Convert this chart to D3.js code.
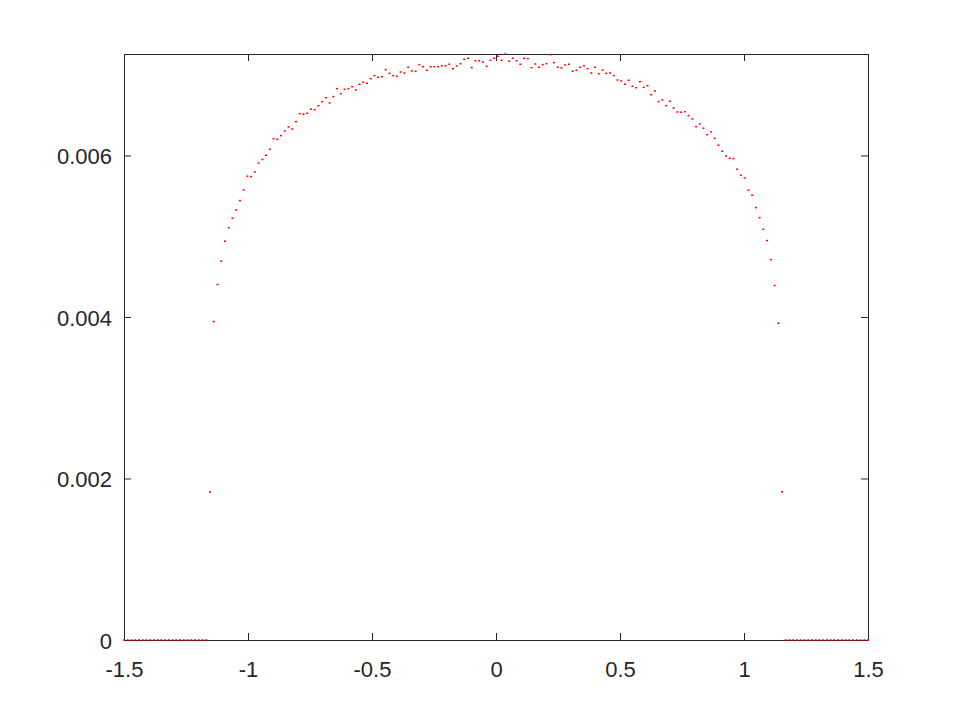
<!DOCTYPE html>
<html>
<head>
<meta charset="utf-8">
<script src="https://cdn.jsdelivr.net/npm/d3@7"></script>
<style>
  html, body { margin: 0; padding: 0; background: #fff; }
  svg { display: block; }
  .tick text { font-family: "Liberation Sans", Arial, sans-serif; font-size: 22px; fill: #262626; }
</style>
</head>
<body>
<svg id="chart" width="960" height="720"></svg>
<script>
// ---- data ----
const xStart = -1.5;
const xEnd = 1.5;
const binCount = 200;

// histogram heights, one per bin
const values = [
  0,0,0,0,0,0,0,0,0,0,0,0,0,0,0,0,0,0,0,0,0,0,0,
  0.001832,0.003943,0.004401,0.004691,0.004938,0.005106,0.005223,0.005325,0.005441,0.005573,
  0.005743,0.005738,0.005796,0.005907,0.005950,0.006002,0.006077,0.006208,0.006200,0.006245,
  0.006303,0.006353,0.006328,0.006418,0.006517,0.006510,0.006522,0.006572,0.006567,0.006616,
  0.006666,0.006715,0.006650,0.006728,0.006827,0.006765,0.006819,0.006827,0.006851,0.006811,
  0.006881,0.006906,0.006894,0.006950,0.006988,0.006968,0.006975,0.007062,0.007017,0.006988,
  0.006980,0.007033,0.007021,0.007092,0.007046,0.007042,0.007124,0.007099,0.007054,0.007099,
  0.007099,0.007099,0.007111,0.007111,0.007129,0.007074,0.007108,0.007136,0.007191,0.007203,
  0.007087,0.007170,0.007173,0.007157,0.007104,0.007178,0.007203,0.007228,0.007178,0.007256,
  0.007166,0.007203,0.007173,0.007129,0.007203,0.007198,0.007087,0.007132,0.007092,0.007124,
  0.007136,0.007248,0.007149,0.007092,0.007083,0.007120,0.007129,0.007042,0.007054,0.007092,
  0.007111,0.007074,0.007021,0.007092,0.007012,0.007058,0.007017,0.007021,0.006988,0.006934,
  0.006922,0.006881,0.006931,0.006856,0.006839,0.006913,0.006844,0.006864,0.006752,0.006798,
  0.006666,0.006687,0.006616,0.006671,0.006588,0.006538,0.006535,0.006542,0.006493,0.006452,
  0.006356,0.006390,0.006337,0.006257,0.006291,0.006213,0.006126,0.006052,0.005994,0.005965,
  0.005960,0.005829,0.005755,0.005721,0.005569,0.005507,0.005354,0.005230,0.005087,0.004946,
  0.004710,0.004389,0.003923,0.001835,
  0,0,0,0,0,0,0,0,0,0,0,0,0,0,0,0,0,0,0,0,0,0,0
];

const xTickValues = [-1.5, -1, -0.5, 0, 0.5, 1, 1.5];
const xTickLabels = ["-1.5", "-1", "-0.5", "0", "0.5", "1", "1.5"];
const yTickValues = [0, 0.002, 0.004, 0.006];
const yTickLabels = ["0", "0.002", "0.004", "0.006"];

// bin positions (evenly spaced grid from xStart to xEnd)
const xs = d3.range(binCount).map(i => xStart + (xEnd - xStart) * i / (binCount - 1));
const points = values.map((v, i) => ({ x: xs[i], y: v }));

// ---- layout ----
const W = 960, H = 720;
const margin = { top: 54, right: 92, bottom: 80, left: 124 };
const iw = W - margin.left - margin.right;
const ih = H - margin.top - margin.bottom;
const axisColor = "#262626";

const svg = d3.select("#chart");
const g = svg.append("g").attr("transform", `translate(${margin.left},${margin.top})`);

const x = d3.scaleLinear().domain([xStart, xEnd]).range([0, iw]);
const y = d3.scaleLinear().domain([0, d3.max(values)]).range([ih, 0]);

// axes
const tickLen = 7;
function styleAxis(sel) {
  sel.selectAll(".domain").remove();
  sel.selectAll(".tick line").attr("stroke", axisColor);
}

// frame
g.append("rect")
  .attr("x", 0.5).attr("y", 0.5)
  .attr("width", iw).attr("height", ih)
  .attr("fill", "none")
  .attr("stroke", axisColor)
  .attr("stroke-width", 1);

const xAxis = g.append("g")
  .attr("transform", `translate(0,${ih})`)
  .call(d3.axisBottom(x).tickValues(xTickValues)
    .tickFormat((d, i) => xTickLabels[i])
    .tickSizeInner(-tickLen).tickSizeOuter(0));
styleAxis(xAxis);
xAxis.selectAll(".tick text").attr("y", 37).attr("dy", null);

const xAxisTop = g.append("g")
  .call(d3.axisTop(x).tickValues(xTickValues).tickFormat("")
    .tickSizeInner(-tickLen).tickSizeOuter(0));
styleAxis(xAxisTop);

const yAxis = g.append("g")
  .call(d3.axisLeft(y).tickValues(yTickValues)
    .tickFormat((d, i) => yTickLabels[i])
    .tickSizeInner(-tickLen).tickSizeOuter(0).tickPadding(12));
styleAxis(yAxis);
yAxis.selectAll(".tick text").attr("x", -12).attr("dy", "0.38em");

const yAxisRight = g.append("g")
  .attr("transform", `translate(${iw},0)`)
  .call(d3.axisRight(y).tickValues(yTickValues).tickFormat("")
    .tickSizeInner(-tickLen).tickSizeOuter(0));
styleAxis(yAxisRight);

// points (drawn on top of the frame)
g.append("g")
  .selectAll("rect")
  .data(points)
  .join("rect")
  .attr("x", d => x(d.x) - 1)
  .attr("y", d => y(d.y) - 0.75)
  .attr("width", 2)
  .attr("height", 1.5)
  .attr("fill", "#ff0000");
</script>
</body>
</html>
